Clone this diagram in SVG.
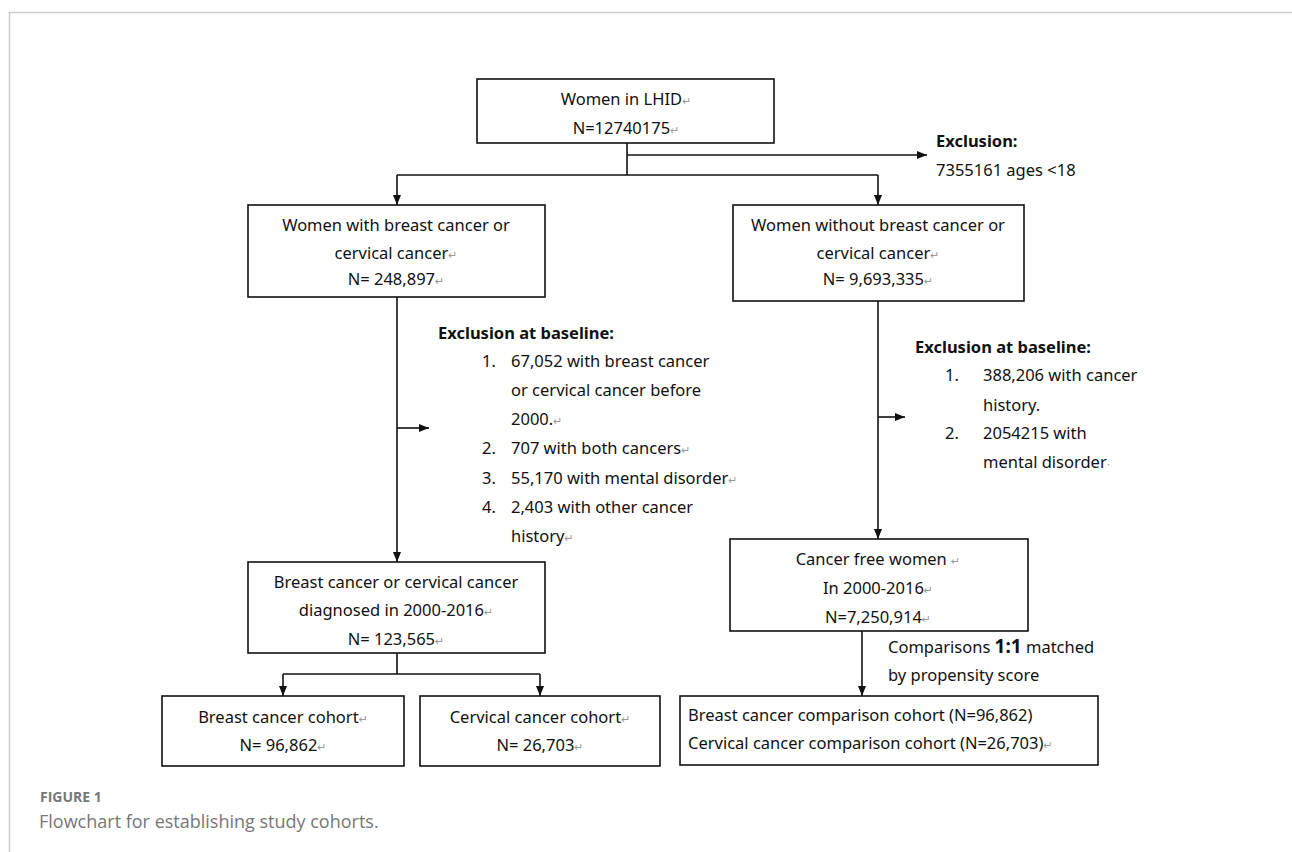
<svg xmlns="http://www.w3.org/2000/svg" width="1292" height="852" viewBox="0 0 1292 852">
<defs>
<marker id="ah" viewBox="0 0 10 8" refX="10" refY="4" markerWidth="10" markerHeight="8" markerUnits="userSpaceOnUse" orient="auto">
<path d="M0,0 L10,4 L0,8 z" fill="#111"/>
</marker>
<style>
.box{fill:#fff;stroke:#111;stroke-width:1.6}
.t{font-family:"Noto Sans","Open Sans",sans-serif;font-size:16.5px;fill:#111}
.c{text-anchor:middle}
.b{font-weight:bold}
.rm{fill:#999;font-size:11px;font-family:"DejaVu Sans",sans-serif}
.ln{fill:none;stroke:#111;stroke-width:1.6}
.cap{font-family:"Open Sans","Noto Sans",sans-serif;fill:#777}
</style>
</defs>
<rect width="1292" height="852" fill="#fff"/>
<path d="M9.5,852 V12.5 H1292" fill="none" stroke="#ccc" stroke-width="1.5"/>

<g id="connectors">
<path class="ln" d="M627,143 V175"/>
<path class="ln" d="M627,155 H927" marker-end="url(#ah)"/>
<path class="ln" d="M397,175 H878"/>
<path class="ln" d="M397,175 V205" marker-end="url(#ah)"/>
<path class="ln" d="M878,175 V205" marker-end="url(#ah)"/>
<path class="ln" d="M397,297 V562" marker-end="url(#ah)"/>
<path class="ln" d="M397,428 H429" marker-end="url(#ah)"/>
<path class="ln" d="M878,301 V539" marker-end="url(#ah)"/>
<path class="ln" d="M878,417 H905" marker-end="url(#ah)"/>
<path class="ln" d="M397,653 V674 M283,674 H540"/>
<path class="ln" d="M283,674 V696" marker-end="url(#ah)"/>
<path class="ln" d="M540,674 V696" marker-end="url(#ah)"/>
<path class="ln" d="M862,631 V696" marker-end="url(#ah)"/>
</g>

<g id="n-lhid">
<rect class="box" x="477" y="79" width="297" height="64"/>
<text class="t c" x="626" y="105">Women in LHID<tspan class="rm">↵</tspan></text>
<text class="t c" x="626" y="134">N=12740175<tspan class="rm">↵</tspan></text>
</g>

<g id="n-excl1">
<text class="t b" x="936" y="147">Exclusion:</text>
<text class="t" x="936" y="176">7355161 ages &lt;18</text>
</g>

<g id="n-with">
<rect class="box" x="248" y="205" width="297" height="92"/>
<text class="t c" x="396" y="231">Women with breast cancer or</text>
<text class="t c" x="396" y="259">cervical cancer<tspan class="rm">↵</tspan></text>
<text class="t c" x="396" y="285">N= 248,897<tspan class="rm">↵</tspan></text>
</g>

<g id="n-without">
<rect class="box" x="733" y="205" width="291" height="96"/>
<text class="t c" x="878" y="231">Women without breast cancer or</text>
<text class="t c" x="878" y="259">cervical cancer<tspan class="rm">↵</tspan></text>
<text class="t c" x="878" y="285">N= 9,693,335<tspan class="rm">↵</tspan></text>
</g>

<g id="n-excl-left">
<text class="t b" x="438" y="339">Exclusion at baseline:</text>
<text class="t" x="482" y="367">1.</text>
<text class="t" x="511" y="367">67,052 with breast cancer</text>
<text class="t" x="511" y="396">or cervical cancer before</text>
<text class="t" x="511" y="425">2000.<tspan class="rm">↵</tspan></text>
<text class="t" x="482" y="454">2.</text>
<text class="t" x="511" y="454">707 with both cancers<tspan class="rm">↵</tspan></text>
<text class="t" x="482" y="484">3.</text>
<text class="t" x="511" y="484">55,170 with mental disorder<tspan class="rm">↵</tspan></text>
<text class="t" x="482" y="513">4.</text>
<text class="t" x="511" y="513">2,403 with other cancer</text>
<text class="t" x="511" y="542">history<tspan class="rm">↵</tspan></text>
</g>

<g id="n-excl-right">
<text class="t b" x="915" y="353">Exclusion at baseline:</text>
<text class="t" x="945" y="381">1.</text>
<text class="t" x="983" y="381">388,206 with cancer</text>
<text class="t" x="983" y="411">history.</text>
<text class="t" x="945" y="439">2.</text>
<text class="t" x="983" y="439">2054215 with</text>
<text class="t" x="983" y="468">mental disorder<tspan class="rm">·</tspan></text>
</g>

<g id="n-diag">
<rect class="box" x="248" y="562" width="297" height="91"/>
<text class="t c" x="396" y="588">Breast cancer or cervical cancer</text>
<text class="t c" x="396" y="616">diagnosed in 2000-2016<tspan class="rm">↵</tspan></text>
<text class="t c" x="396" y="645">N= 123,565<tspan class="rm">↵</tspan></text>
</g>

<g id="n-free">
<rect class="box" x="730" y="539" width="298" height="92"/>
<text class="t c" x="878" y="565">Cancer free women <tspan class="rm">↵</tspan></text>
<text class="t c" x="878" y="594">In 2000-2016<tspan class="rm">↵</tspan></text>
<text class="t c" x="878" y="623">N=7,250,914<tspan class="rm">↵</tspan></text>
</g>

<g id="n-match">
<text class="t" x="888" y="653">Comparisons <tspan class="b" font-size="19">1:1</tspan> matched</text>
<text class="t" x="888" y="681">by propensity score</text>
</g>

<g id="n-breast">
<rect class="box" x="162" y="696" width="242" height="70"/>
<text class="t c" x="283" y="723">Breast cancer cohort<tspan class="rm">↵</tspan></text>
<text class="t c" x="283" y="751">N= 96,862<tspan class="rm">↵</tspan></text>
</g>

<g id="n-cervical">
<rect class="box" x="420" y="696" width="240" height="70"/>
<text class="t c" x="540" y="723">Cervical cancer cohort<tspan class="rm">↵</tspan></text>
<text class="t c" x="540" y="751">N= 26,703<tspan class="rm">↵</tspan></text>
</g>

<g id="n-comp">
<rect class="box" x="680" y="696" width="418" height="69"/>
<text class="t" x="688" y="721">Breast cancer comparison cohort (N=96,862)</text>
<text class="t" x="688" y="749">Cervical cancer comparison cohort (N=26,703)<tspan class="rm">↵</tspan></text>
</g>

<g id="caption">
<text class="cap" x="40" y="802" font-size="14" font-weight="bold">FIGURE 1</text>
<text class="cap" x="39" y="828" font-size="18">Flowchart for establishing study cohorts.</text>
</g>
</svg>
